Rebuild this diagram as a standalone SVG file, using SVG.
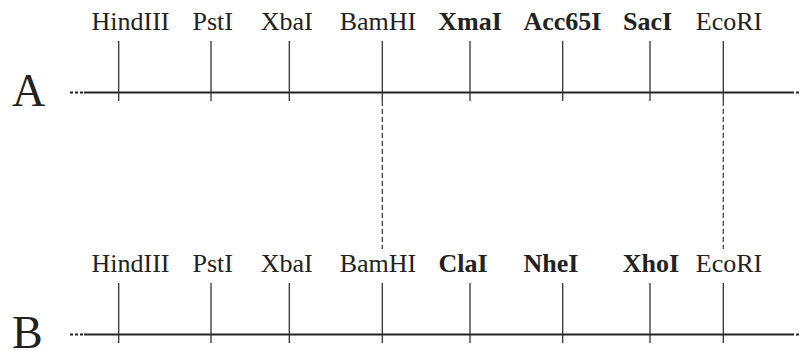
<svg xmlns="http://www.w3.org/2000/svg" width="800" height="351" viewBox="0 0 800 351">
<style>
.lbl{font-family:"Liberation Serif","Times New Roman",serif;font-size:26px;fill:#222;text-anchor:middle}
.b{font-weight:bold}
.big{font-family:"Liberation Serif","Times New Roman",serif;font-size:46px;fill:#222}
.main{stroke:#222;stroke-width:2;fill:none}
.tick{stroke:#333;stroke-width:1.3;fill:none}
.dot{stroke:#222;stroke-width:2;stroke-dasharray:3 2;fill:none}
.conn{stroke:#444;stroke-width:1.3;stroke-dasharray:5 3;fill:none}
</style>
<rect width="800" height="351" fill="#fff"/>
<g id="rowA">
<text class="big" x="12" y="106">A</text>
<line class="dot" x1="70" y1="92.5" x2="84" y2="92.5"/>
<line class="main" x1="84" y1="92.5" x2="794" y2="92.5"/>
<line class="dot" x1="796" y1="92.5" x2="800" y2="92.5"/>
<g id="A-HindIII"><line class="tick" x1="118.7" y1="41" x2="118.7" y2="101"/><text class="lbl" x="130.5" y="30">HindIII</text></g>
<g id="A-PstI"><line class="tick" x1="211" y1="41" x2="211" y2="101"/><text class="lbl" x="212.7" y="30">PstI</text></g>
<g id="A-XbaI"><line class="tick" x1="289.3" y1="41" x2="289.3" y2="101"/><text class="lbl" x="286.7" y="30">XbaI</text></g>
<g id="A-BamHI"><line class="tick" x1="382.3" y1="41" x2="382.3" y2="101"/><text class="lbl" x="378" y="30">BamHI</text></g>
<g id="A-XmaI"><line class="tick" x1="470" y1="41" x2="470" y2="101"/><text class="lbl b" x="470" y="30">XmaI</text></g>
<g id="A-Acc65I"><line class="tick" x1="562.7" y1="41" x2="562.7" y2="101"/><text class="lbl b" x="562.5" y="30">Acc65I</text></g>
<g id="A-SacI"><line class="tick" x1="650" y1="41" x2="650" y2="101"/><text class="lbl b" x="647.5" y="30">SacI</text></g>
<g id="A-EcoRI"><line class="tick" x1="723.3" y1="41" x2="723.3" y2="101"/><text class="lbl" x="729" y="30">EcoRI</text></g>
</g>
<g id="rowB">
<text class="big" x="12" y="348">B</text>
<line class="dot" x1="70" y1="334.5" x2="84" y2="334.5"/>
<line class="main" x1="84" y1="334.5" x2="794" y2="334.5"/>
<line class="dot" x1="796" y1="334.5" x2="800" y2="334.5"/>
<g id="B-HindIII"><line class="tick" x1="118.7" y1="283" x2="118.7" y2="343"/><text class="lbl" x="130.5" y="272">HindIII</text></g>
<g id="B-PstI"><line class="tick" x1="211" y1="283" x2="211" y2="343"/><text class="lbl" x="212.7" y="272">PstI</text></g>
<g id="B-XbaI"><line class="tick" x1="289.3" y1="283" x2="289.3" y2="343"/><text class="lbl" x="286.7" y="272">XbaI</text></g>
<g id="B-BamHI"><line class="tick" x1="382.3" y1="283" x2="382.3" y2="343"/><text class="lbl" x="378" y="272">BamHI</text></g>
<g id="B-ClaI"><line class="tick" x1="470" y1="283" x2="470" y2="343"/><text class="lbl b" x="463" y="272">ClaI</text></g>
<g id="B-NheI"><line class="tick" x1="562.7" y1="283" x2="562.7" y2="343"/><text class="lbl b" x="551" y="272">NheI</text></g>
<g id="B-XhoI"><line class="tick" x1="650" y1="283" x2="650" y2="343"/><text class="lbl b" x="651" y="272">XhoI</text></g>
<g id="B-EcoRI"><line class="tick" x1="723.3" y1="283" x2="723.3" y2="343"/><text class="lbl" x="729" y="272">EcoRI</text></g>
</g>
<g id="connectors">
<line class="conn" x1="382.3" y1="101" x2="382.3" y2="249"/>
<line class="conn" x1="723.3" y1="101" x2="723.3" y2="249"/>
</g>
</svg>
